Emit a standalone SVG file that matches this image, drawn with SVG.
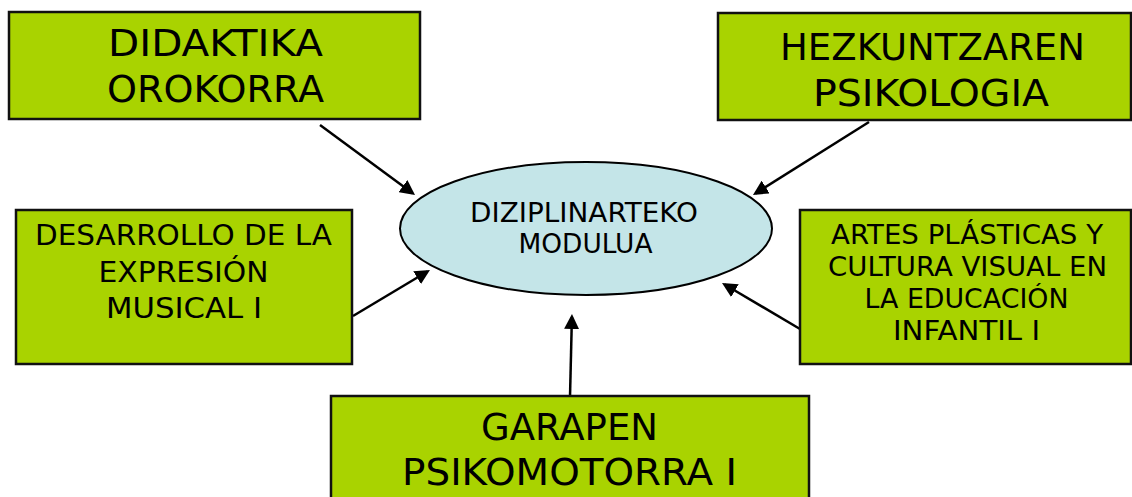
<svg xmlns="http://www.w3.org/2000/svg" width="1132" height="497" viewBox="0 0 1132 497">
<style>
.box{fill:#A9D300;stroke:#111;stroke-width:2.5}
.t{font-family:"DejaVu Sans","Verdana",sans-serif;fill:#000;text-anchor:middle}
.c{stroke:#000;stroke-width:2.5;fill:none;marker-end:url(#ah)}
</style>
<defs>
<marker id="ah" markerUnits="userSpaceOnUse" markerWidth="15" markerHeight="15" viewBox="0 0 15 15" refX="12" refY="7.5" orient="auto">
<path d="M0,0 L15,7.5 L0,15 z" fill="#000"/>
</marker>
</defs>
<rect width="1132" height="497" fill="#fff"/>
<g id="connectors">
<path class="c" d="M320,125 L412.6,193.2"/>
<path class="c" d="M869,122 L755.5,193.4"/>
<path class="c" d="M353,316 L427.4,271.5"/>
<path class="c" d="M800,329 L724.6,284.5"/>
<path class="c" d="M570,397 L571.9,317"/>
</g>
<g id="center">
<ellipse cx="586" cy="228.5" rx="186" ry="66.5" fill="#C4E5E8" stroke="#000" stroke-width="2"/>
<text class="t" x="584" y="222" font-size="26" textLength="228" lengthAdjust="spacingAndGlyphs">DIZIPLINARTEKO</text>
<text class="t" x="585.5" y="253" font-size="26" textLength="134" lengthAdjust="spacingAndGlyphs">MODULUA</text>
</g>
<g id="didaktika">
<rect class="box" x="9" y="12" width="411" height="107"/>
<text class="t" x="215.5" y="56" font-size="37" textLength="215" lengthAdjust="spacingAndGlyphs">DIDAKTIKA</text>
<text class="t" x="215.5" y="102" font-size="37" textLength="217" lengthAdjust="spacingAndGlyphs">OROKORRA</text>
</g>
<g id="hezkuntzaren">
<rect class="box" x="718" y="13" width="413" height="107"/>
<text class="t" x="932.5" y="60" font-size="37" textLength="305" lengthAdjust="spacingAndGlyphs">HEZKUNTZAREN</text>
<text class="t" x="931" y="106" font-size="37" textLength="236" lengthAdjust="spacingAndGlyphs">PSIKOLOGIA</text>
</g>
<g id="desarrollo">
<rect class="box" x="16" y="210" width="336" height="154"/>
<text class="t" x="183.5" y="245" font-size="28" textLength="297" lengthAdjust="spacingAndGlyphs">DESARROLLO DE LA</text>
<text class="t" x="183.5" y="282" font-size="28" textLength="170" lengthAdjust="spacingAndGlyphs">EXPRESIÓN</text>
<text class="t" x="184" y="318" font-size="28" textLength="156" lengthAdjust="spacingAndGlyphs">MUSICAL I</text>
</g>
<g id="artes">
<rect class="box" x="800" y="210" width="331" height="154"/>
<text class="t" x="967" y="244" font-size="26" textLength="272" lengthAdjust="spacingAndGlyphs">ARTES PLÁSTICAS Y</text>
<text class="t" x="967.5" y="276" font-size="26" textLength="279" lengthAdjust="spacingAndGlyphs">CULTURA VISUAL EN</text>
<text class="t" x="966.5" y="308" font-size="26" textLength="204" lengthAdjust="spacingAndGlyphs">LA EDUCACIÓN</text>
<text class="t" x="966.5" y="340" font-size="26" textLength="147" lengthAdjust="spacingAndGlyphs">INFANTIL I</text>
</g>
<g id="garapen">
<rect class="box" x="331" y="396" width="478" height="110"/>
<text class="t" x="569.5" y="440" font-size="37" textLength="177" lengthAdjust="spacingAndGlyphs">GARAPEN</text>
<text class="t" x="569.5" y="485" font-size="37" textLength="335" lengthAdjust="spacingAndGlyphs">PSIKOMOTORRA I</text>
</g>
</svg>
